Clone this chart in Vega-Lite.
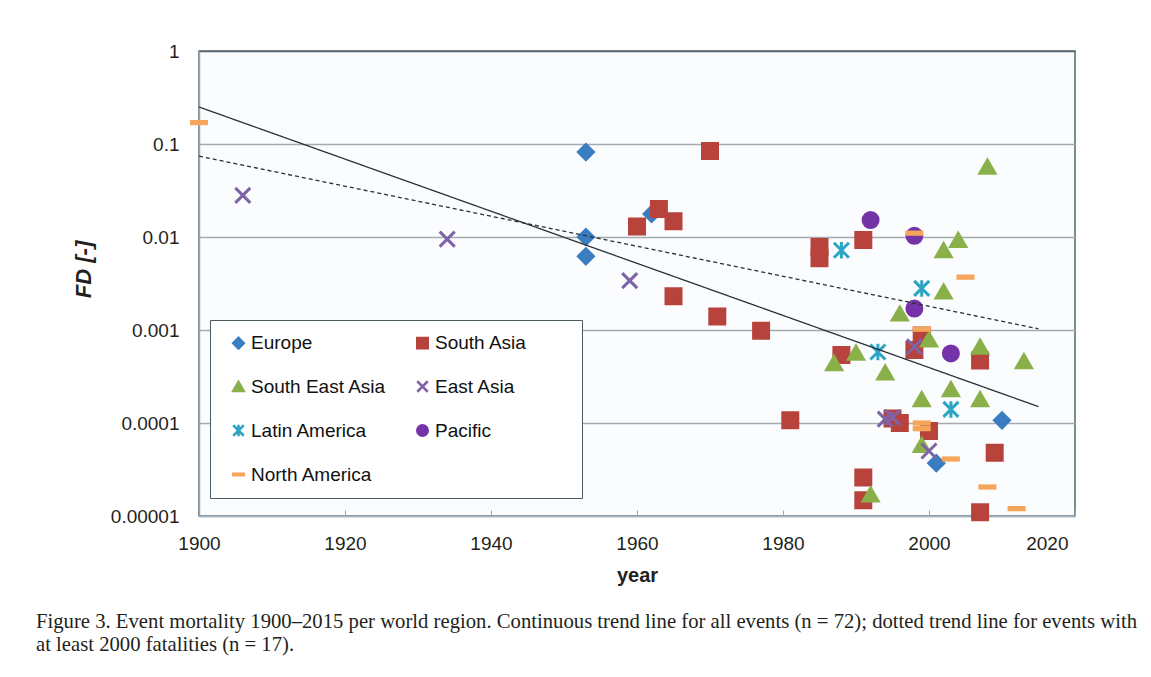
{
  "$schema": "https://vega.github.io/schema/vega-lite/v6.json",
  "width": 876,
  "height": 465,
  "autosize": {"type": "none"},
  "padding": {"left": 199, "top": 51, "right": 76, "bottom": 161},
  "background": "white",
  "config": {
    "view": {"fill": "#FBFCFE", "stroke": "#56666c", "strokeWidth": 1.5},
    "font": "Liberation Sans"
  },
  "title": {
    "text": ["Figure 3. Event mortality 1900–2015 per world region. Continuous trend line for all events (n = 72); dotted trend line for events with", "at least 2000 fatalities (n = 17)."],
    "orient": "bottom",
    "anchor": "start",
    "frame": "group",
    "dx": -163,
    "offset": 27,
    "font": "Liberation Serif",
    "fontSize": 20.7,
    "fontWeight": "normal",
    "color": "#231f20",
    "lineHeight": 23
  },
  "datasets": {
    "points": [
      {"region": "Europe", "year": 1953, "fd": 0.082},
      {"region": "Europe", "year": 1962, "fd": 0.0177},
      {"region": "Europe", "year": 1953, "fd": 0.0100},
      {"region": "Europe", "year": 1953, "fd": 0.0062},
      {"region": "Europe", "year": 2010, "fd": 0.000107},
      {"region": "Europe", "year": 2001, "fd": 0.000037},
      {"region": "South Asia", "year": 1960, "fd": 0.013},
      {"region": "South Asia", "year": 1963, "fd": 0.020},
      {"region": "South Asia", "year": 1965, "fd": 0.0148},
      {"region": "South Asia", "year": 1970, "fd": 0.084},
      {"region": "South Asia", "year": 1965, "fd": 0.0023},
      {"region": "South Asia", "year": 1971, "fd": 0.0014},
      {"region": "South Asia", "year": 1977, "fd": 0.00098},
      {"region": "South Asia", "year": 1981, "fd": 0.000107},
      {"region": "South Asia", "year": 1985, "fd": 0.0078},
      {"region": "South Asia", "year": 1985, "fd": 0.0059},
      {"region": "South Asia", "year": 1991, "fd": 0.0093},
      {"region": "South Asia", "year": 1988, "fd": 0.00054},
      {"region": "South Asia", "year": 1999, "fd": 0.00087},
      {"region": "South Asia", "year": 1998, "fd": 0.00061},
      {"region": "South Asia", "year": 2007, "fd": 0.00047},
      {"region": "South Asia", "year": 1995, "fd": 0.000112},
      {"region": "South Asia", "year": 1996, "fd": 0.000100},
      {"region": "South Asia", "year": 2000, "fd": 0.000082},
      {"region": "South Asia", "year": 2009, "fd": 0.000048},
      {"region": "South Asia", "year": 1991, "fd": 0.000026},
      {"region": "South Asia", "year": 1991, "fd": 0.0000148},
      {"region": "South Asia", "year": 2007, "fd": 0.000011},
      {"region": "South East Asia", "year": 2008, "fd": 0.057},
      {"region": "South East Asia", "year": 2002, "fd": 0.0072},
      {"region": "South East Asia", "year": 2004, "fd": 0.0093},
      {"region": "South East Asia", "year": 2002, "fd": 0.0026},
      {"region": "South East Asia", "year": 1996, "fd": 0.0015},
      {"region": "South East Asia", "year": 2000, "fd": 0.00079},
      {"region": "South East Asia", "year": 2007, "fd": 0.00066},
      {"region": "South East Asia", "year": 2013, "fd": 0.00046},
      {"region": "South East Asia", "year": 1990, "fd": 0.00057},
      {"region": "South East Asia", "year": 1987, "fd": 0.00044},
      {"region": "South East Asia", "year": 1994, "fd": 0.00035},
      {"region": "South East Asia", "year": 2003, "fd": 0.00023},
      {"region": "South East Asia", "year": 1999, "fd": 0.00018},
      {"region": "South East Asia", "year": 2007, "fd": 0.00018},
      {"region": "South East Asia", "year": 1999, "fd": 0.000058},
      {"region": "South East Asia", "year": 1992, "fd": 0.000017},
      {"region": "East Asia", "year": 1906, "fd": 0.028},
      {"region": "East Asia", "year": 1934, "fd": 0.0095},
      {"region": "East Asia", "year": 1959, "fd": 0.0034},
      {"region": "East Asia", "year": 1998, "fd": 0.00066},
      {"region": "East Asia", "year": 1994, "fd": 0.00011},
      {"region": "East Asia", "year": 1995, "fd": 0.000115},
      {"region": "East Asia", "year": 2000, "fd": 0.00005},
      {"region": "Latin America", "year": 1988, "fd": 0.0072},
      {"region": "Latin America", "year": 1999, "fd": 0.0028},
      {"region": "Latin America", "year": 1993, "fd": 0.00058},
      {"region": "Latin America", "year": 2003, "fd": 0.00014},
      {"region": "Pacific", "year": 1992, "fd": 0.0152},
      {"region": "Pacific", "year": 1998, "fd": 0.0103},
      {"region": "Pacific", "year": 1998, "fd": 0.0017},
      {"region": "Pacific", "year": 2003, "fd": 0.00056},
      {"region": "North America", "year": 1900, "fd": 0.17},
      {"region": "North America", "year": 1998, "fd": 0.011},
      {"region": "North America", "year": 2005, "fd": 0.0037},
      {"region": "North America", "year": 1999, "fd": 0.00102},
      {"region": "North America", "year": 1999, "fd": 0.000100},
      {"region": "North America", "year": 1999, "fd": 0.000087},
      {"region": "North America", "year": 2003, "fd": 0.000041},
      {"region": "North America", "year": 2008, "fd": 0.0000205},
      {"region": "North America", "year": 2012, "fd": 0.000012}
    ],
    "trend": [
      {"kind": "all", "year": 1900, "fd": 0.25},
      {"kind": "all", "year": 2015, "fd": 0.000150},
      {"kind": "large", "year": 1900, "fd": 0.074},
      {"kind": "large", "year": 2015, "fd": 0.00103}
    ]
  },
  "layer": [
    {
      "data": {"name": "points"},
      "mark": {"type": "point", "filled": true, "size": 225, "strokeWidth": 3, "opacity": 1},
      "encoding": {
        "x": {
          "field": "year", "type": "quantitative",
          "scale": {"domain": [1900, 2020], "nice": false, "zero": false},
          "axis": {
            "values": [1900, 1920, 1940, 1960, 1980, 2000, 2020],
            "format": "d",
            "grid": false,
            "tickSize": -6,
            "tickColor": "#9AA6B0",
            "labelPadding": 24,
            "labelFontSize": 19,
            "labelColor": "#231f20",
            "labelAlign": {"condition": {"test": "datum.value == 2020", "value": "right"}, "value": "center"},
            "labelOffset": {"condition": {"test": "datum.value == 2020", "value": -7}, "value": 0},
            "domainColor": "#A3B4C4",
            "domainWidth": 1.5,
            "title": "year",
            "titleFontSize": 20,
            "titleFontWeight": "bold",
            "titleColor": "#231f20",
            "titlePadding": 12
          }
        },
        "y": {
          "field": "fd", "type": "quantitative",
          "scale": {"type": "log", "domain": [0.00001, 1], "nice": false},
          "axis": {
            "values": [0.00001, 0.0001, 0.001, 0.01, 0.1, 1],
            "labelExpr": "format(datum.value, '.5~f')",
            "ticks": false,
            "labelPadding": 20,
            "labelFontSize": 19,
            "labelColor": "#231f20",
            "grid": true,
            "gridColor": {"condition": {"test": "datum.value >= 1", "value": "#56666c"}, "value": "#A5AAB0"},
            "gridWidth": 1.3,
            "domainColor": "#9FA7AE",
            "domainWidth": 1.5,
            "title": "FD [-]",
            "titleFontSize": 22,
            "titleFontWeight": "bold",
            "titleFontStyle": "italic",
            "titleColor": "#231f20",
            "titleAngle": -90,
            "titleAlign": "center",
            "titleBaseline": "bottom",
            "titleX": -104,
            "titleY": 218
          }
        },
        "fill": {
          "field": "region", "type": "nominal",
          "scale": {
            "domain": ["Europe", "South Asia", "South East Asia", "East Asia", "Latin America", "Pacific", "North America"],
            "range": ["#3A7DC0", "#B7433C", "#8AB04A", "#7E63A8", "#2CA5C4", "#7433A6", "#F6A65A"]
          },
          "legend": {
            "title": null, "orient": "none", "legendX": 11, "legendY": 269, "direction": "horizontal",
            "columns": 2, "columnPadding": 20, "rowPadding": 21, "padding": 13,
            "gridAlign": "all", "symbolOffset": 6, "labelOffset": 3,
            "symbolSize": 110, "symbolStrokeWidth": 2.5,
            "labelExpr": "datum.label == 'South Asia' ? 'South Asia\u2800\u2800\u2800' : datum.label",
            "labelFontSize": 19, "labelFont": "Liberation Sans", "labelColor": "#111111",
            "strokeColor": "#4a5a60", "fillColor": "white"
          }
        },
        "stroke": {
          "field": "region", "type": "nominal",
          "scale": {
            "domain": ["Europe", "South Asia", "South East Asia", "East Asia", "Latin America", "Pacific", "North America"],
            "range": ["#3A7DC0", "#B7433C", "#8AB04A", "#7E63A8", "#2CA5C4", "#7433A6", "#F6A65A"]
          },
          "legend": {
            "title": null, "orient": "none", "legendX": 11, "legendY": 269, "direction": "horizontal",
            "columns": 2, "columnPadding": 20, "rowPadding": 21, "padding": 13,
            "gridAlign": "all", "symbolOffset": 6, "labelOffset": 3,
            "symbolSize": 110, "symbolStrokeWidth": 2.5,
            "labelExpr": "datum.label == 'South Asia' ? 'South Asia\u2800\u2800\u2800' : datum.label",
            "labelFontSize": 19, "labelFont": "Liberation Sans", "labelColor": "#111111",
            "strokeColor": "#4a5a60", "fillColor": "white"
          }
        },
        "shape": {
          "field": "region", "type": "nominal",
          "scale": {
            "domain": ["Europe", "South Asia", "South East Asia", "East Asia", "Latin America", "Pacific", "North America"],
            "range": ["diamond", "square", "triangle-up", "M-1,-1L1,1M1,-1L-1,1", "M-1,-1L1,1M1,-1L-1,1M0,-1.1L0,1.1", "circle", "M-1,-0.15L1,-0.15L1,0.15L-1,0.15Z"]
          },
          "legend": {
            "title": null, "orient": "none", "legendX": 11, "legendY": 269, "direction": "horizontal",
            "columns": 2, "columnPadding": 20, "rowPadding": 21, "padding": 13,
            "gridAlign": "all", "symbolOffset": 6, "labelOffset": 3,
            "symbolSize": 110, "symbolStrokeWidth": 2.5,
            "labelExpr": "datum.label == 'South Asia' ? 'South Asia\u2800\u2800\u2800' : datum.label",
            "labelFontSize": 19, "labelFont": "Liberation Sans", "labelColor": "#111111",
            "strokeColor": "#4a5a60", "fillColor": "white"
          }
        }
      }
    },
    {
      "data": {"name": "trend"},
      "mark": {"type": "line", "color": "#2a2f33", "strokeWidth": 1.3},
      "encoding": {
        "x": {"field": "year", "type": "quantitative"},
        "y": {"field": "fd", "type": "quantitative"},
        "detail": {"field": "kind", "type": "nominal"},
        "strokeDash": {
          "field": "kind", "type": "nominal",
          "scale": {"domain": ["all", "large"], "range": [[1, 0], [4, 3]]},
          "legend": null
        }
      }
    }
  ]
}
